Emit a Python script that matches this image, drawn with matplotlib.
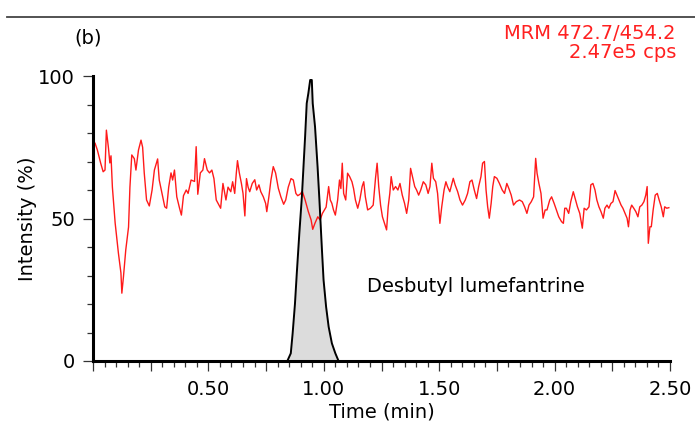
"""Recreate chromatogram panel (b): MRM trace with desbutyl lumefantrine peak."""
import matplotlib
matplotlib.use("Agg")
import matplotlib.pyplot as plt
from matplotlib.lines import Line2D
from matplotlib.ticker import MultipleLocator, FuncFormatter

plt.rcParams["font.family"] = ["DejaVu Sans"]

# Noisy red baseline trace (time in min, intensity in %).
red_time = [
    0.009, 0.019, 0.033, 0.044, 0.052, 0.058, 0.067, 0.073, 0.078, 0.084, 0.096, 0.110,
    0.121, 0.125, 0.132, 0.142, 0.154, 0.160, 0.168, 0.179, 0.186, 0.197, 0.208, 0.215,
    0.222, 0.232, 0.244, 0.256, 0.266, 0.280, 0.287, 0.299, 0.311, 0.319, 0.328, 0.338,
    0.345, 0.353, 0.363, 0.375, 0.383, 0.392, 0.404, 0.412, 0.425, 0.440, 0.447, 0.454,
    0.465, 0.476, 0.483, 0.495, 0.505, 0.515, 0.524, 0.534, 0.544, 0.553, 0.563, 0.571,
    0.576, 0.585, 0.597, 0.605, 0.614, 0.621, 0.626, 0.634, 0.643, 0.650, 0.658, 0.665,
    0.672, 0.679, 0.690, 0.701, 0.709, 0.719, 0.727, 0.738, 0.748, 0.753, 0.762, 0.771,
    0.781, 0.791, 0.803, 0.814, 0.826, 0.835, 0.846, 0.858, 0.868, 0.879, 0.887, 0.897,
    0.907, 0.919, 0.933, 0.945, 0.952, 0.962, 0.974, 0.984, 0.994, 1.010, 1.021, 1.028,
    1.035, 1.042, 1.050, 1.060, 1.068, 1.074, 1.080, 1.086, 1.095, 1.103, 1.112, 1.122,
    1.129, 1.137, 1.147, 1.156, 1.166, 1.173, 1.180, 1.190, 1.202, 1.214, 1.224, 1.231,
    1.238, 1.246, 1.254, 1.263, 1.272, 1.279, 1.286, 1.292, 1.301, 1.311, 1.321, 1.330,
    1.340, 1.350, 1.359, 1.368, 1.376, 1.384, 1.394, 1.402, 1.411, 1.420, 1.431, 1.442,
    1.452, 1.460, 1.468, 1.475, 1.485, 1.493, 1.503, 1.511, 1.521, 1.529, 1.536, 1.546,
    1.555, 1.561, 1.569, 1.580, 1.590, 1.601, 1.613, 1.623, 1.633, 1.642, 1.652, 1.662,
    1.671, 1.681, 1.688, 1.696, 1.703, 1.710, 1.717, 1.725, 1.732, 1.739, 1.750, 1.761,
    1.773, 1.783, 1.793, 1.802, 1.812, 1.822, 1.834, 1.848, 1.860, 1.870, 1.880, 1.889,
    1.899, 1.909, 1.918, 1.924, 1.932, 1.941, 1.950, 1.959, 1.967, 1.979, 1.987, 1.998,
    2.008, 2.018, 2.030, 2.038, 2.044, 2.051, 2.061, 2.070, 2.081, 2.091, 2.099, 2.109,
    2.120, 2.128, 2.138, 2.149, 2.157, 2.166, 2.175, 2.183, 2.192, 2.201, 2.211, 2.218,
    2.227, 2.235, 2.244, 2.253, 2.262, 2.270, 2.279, 2.288, 2.296, 2.305, 2.314, 2.320,
    2.327, 2.334, 2.343, 2.352, 2.361, 2.369, 2.378, 2.387, 2.395, 2.401, 2.406, 2.413,
    2.419, 2.427, 2.436, 2.445, 2.453, 2.462, 2.471, 2.477, 2.486, 2.495,
]
red_int = [
    76.4, 74.0, 69.5, 66.4, 67.0, 81.0, 74.7, 69.5, 72.0, 61.0, 48.4, 37.9,
    30.9, 23.8, 29.6, 39.0, 47.0, 61.0, 72.3, 71.0, 67.0, 74.0, 77.5, 75.0,
    66.0, 56.5, 54.4, 60.0, 67.0, 70.9, 63.5, 58.8, 54.1, 53.6, 61.0, 66.0,
    63.5, 67.0, 57.6, 53.6, 51.2, 58.0, 60.0, 58.8, 63.5, 63.0, 75.2, 58.5,
    66.0, 67.0, 71.0, 67.0, 66.0, 67.0, 64.0, 56.5, 55.0, 53.6, 62.3, 58.8,
    56.5, 61.0, 59.4, 62.9, 58.8, 66.0, 70.3, 66.0, 62.3, 58.8, 50.9, 64.0,
    61.0, 59.4, 62.3, 63.6, 60.0, 61.8, 59.4, 57.6, 55.3, 52.4, 57.6, 63.5,
    68.2, 66.0, 60.6, 57.6, 55.0, 56.5, 61.0, 64.0, 63.5, 58.8, 58.0, 58.5,
    59.5, 56.5, 52.4, 49.5, 46.2, 48.4, 50.6, 49.5, 51.8, 54.0, 61.2, 56.5,
    55.3, 53.0, 51.2, 56.5, 63.5, 60.5, 69.4, 58.8, 56.5, 65.9, 64.7, 62.9,
    60.5, 56.5, 53.6, 56.5, 61.2, 62.9, 57.6, 53.0, 53.6, 54.7, 64.1, 69.4,
    61.2, 54.7, 50.6, 48.3, 46.0, 54.1, 58.8, 64.7, 60.0, 61.2, 60.0, 62.3,
    58.2, 55.3, 51.8, 56.5, 67.6, 64.7, 61.2, 60.0, 58.2, 60.0, 62.9, 61.8,
    58.8, 61.2, 69.4, 64.1, 62.9, 58.8, 48.3, 54.1, 60.0, 62.9, 61.2, 59.4,
    62.3, 64.1, 61.8, 59.4, 56.5, 54.7, 56.5, 58.8, 62.9, 63.5, 60.0, 57.0,
    61.2, 64.7, 69.4, 70.0, 60.0, 54.1, 50.1, 55.3, 61.2, 64.7, 64.1, 62.3,
    60.0, 58.8, 62.3, 60.5, 58.2, 54.7, 55.9, 56.5, 55.9, 54.1, 51.8, 54.7,
    55.9, 57.6, 71.1, 65.9, 62.3, 58.8, 50.1, 53.0, 53.0, 56.5, 57.6, 55.3,
    53.0, 50.6, 48.9, 48.3, 53.6, 53.6, 51.8, 55.9, 59.4, 56.5, 54.1, 51.8,
    46.6, 53.6, 53.0, 54.1, 61.8, 62.3, 60.0, 56.5, 54.1, 52.4, 50.1, 53.6,
    54.7, 53.6, 55.3, 55.9, 59.8, 58.2, 56.5, 54.7, 53.6, 51.8, 50.1, 47.1,
    53.0, 54.7, 53.6, 52.4, 50.6, 54.1, 54.7, 55.9, 58.2, 61.2, 41.3, 47.1,
    47.1, 53.0, 58.2, 58.8, 56.5, 54.1, 50.6, 54.1, 53.6, 53.8,
]

# Analyte peak (black outline, grey fill).
peak_time = [
    0.842, 0.857, 0.865, 0.875, 0.883, 0.894, 0.905, 0.912, 0.919, 0.926, 0.933,
    0.941, 0.948, 0.952, 0.962, 0.973, 0.981, 0.992, 0.999, 1.010, 1.021, 1.035,
    1.050, 1.064,
]
peak_int = [
    0.0, 2.7, 9.7, 20.0, 30.8, 44.8, 57.6, 68.2, 78.7, 90.4, 93.9,
    98.6, 98.6, 90.4, 82.2, 68.2, 56.5, 38.9, 28.4, 19.0, 12.0, 6.2,
    2.7, 0.0,
]

y_ticks = [0, 50, 100]
x_ticks = [0.50, 1.00, 1.50, 2.00, 2.50]

panel_label = "(b)"
channel_text = "MRM 472.7/454.2\n2.47e5 cps"
peak_label = "Desbutyl lumefantrine"


def plot_chromatogram(path: str) -> None:
    fig = plt.figure(figsize=(6.95, 4.25), dpi=100)
    ax = fig.add_axes([93 / 695, 1 - 361 / 425, (670 - 93) / 695, (361 - 76) / 425])
    ax.set_xlim(0, 2.5)
    ax.set_ylim(0, 100)

    # grey peak area, red trace on top, black outline last
    ax.fill_between(peak_time, peak_int, 0, color="#dcdcdc", linewidth=0, zorder=1)
    ax.plot(red_time, red_int, color="#ff1a1a", linewidth=1.0, zorder=2)
    ax.plot(peak_time, peak_int, color="black", linewidth=1.4, zorder=3)

    for side in ["top", "right"]:
        ax.spines[side].set_visible(False)
    for side in ["left", "bottom"]:
        ax.spines[side].set_linewidth(2.2)

    ax.set_yticks(y_ticks)
    ax.yaxis.set_minor_locator(MultipleLocator(10))
    ax.xaxis.set_major_locator(MultipleLocator(0.25))
    ax.xaxis.set_minor_locator(MultipleLocator(0.05))
    ax.xaxis.set_major_formatter(FuncFormatter(
        lambda v, _: f"{v:.2f}" if any(abs(v - t) < 1e-6 for t in x_ticks) else ""))
    ax.tick_params(axis="both", which="major", length=7, width=0.9, color="#333333",
                   labelsize=14, pad=6)
    ax.tick_params(axis="x", which="major", pad=7)
    ax.tick_params(axis="both", which="minor", length=4, width=0.9, color="#333333")

    ax.set_xlabel("Time (min)", fontsize=14, labelpad=2)
    ax.set_ylabel("Intensity (%)", fontsize=14, labelpad=1)

    fig.text(88 / 695, 1 - 38 / 425, panel_label, fontsize=14, ha="center", va="center")
    fig.text(676 / 695, 1 - 43 / 425, channel_text, fontsize=14, color="#ff2020",
             ha="right", va="center", linespacing=1.05, multialignment="right")
    ax.text(1.66, 26, peak_label, fontsize=14, ha="center", va="center")

    # separator line left over from the panel above
    fig.add_artist(Line2D([7 / 695, 1.0], [1 - 17 / 425, 1 - 17 / 425],
                          color="#444444", linewidth=1.3))

    fig.savefig(path)
    plt.close(fig)


def main() -> None:
    plot_chromatogram("out.png")


if __name__ == "__main__":
    main()
